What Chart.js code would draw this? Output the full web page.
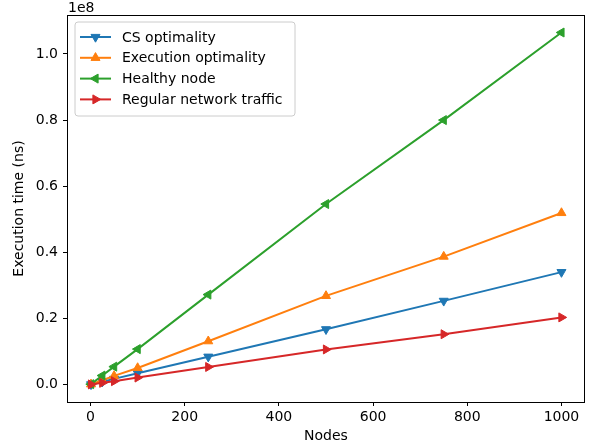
<!DOCTYPE html>
<html><head><meta charset="utf-8">
<script src="https://cdn.jsdelivr.net/npm/chart.js@4"></script>
<style>html,body{margin:0;padding:0;background:#fff}</style>
</head><body>
<canvas id="c" width="595" height="448"></canvas>
<script>
const nodes = [1, 25, 50, 100, 250, 500, 750, 1000];
const csOptimality = [0.0003e8, 0.0085e8, 0.017e8, 0.034e8, 0.084e8, 0.167e8, 0.253e8, 0.340e8];
const executionOptimality = [0.0005e8, 0.013e8, 0.026e8, 0.050e8, 0.131e8, 0.268e8, 0.387e8, 0.519e8];
const healthyNode = [0.001e8, 0.027e8, 0.054e8, 0.107e8, 0.272e8, 0.546e8, 0.800e8, 1.065e8];
const regularTraffic = [0.0002e8, 0.005e8, 0.010e8, 0.021e8, 0.053e8, 0.106e8, 0.152e8, 0.203e8];
const seriesNames = ['CS optimality', 'Execution optimality', 'Healthy node', 'Regular network traffic'];
const xTicks = [0, 200, 400, 600, 800, 1000];
const yTicks = [0, 0.2e8, 0.4e8, 0.6e8, 0.8e8, 1.0e8];
const yTickLabels = ['0.0', '0.2', '0.4', '0.6', '0.8', '1.0'];

const colors = ['#1f77b4', '#ff7f0e', '#2ca02c', '#d62728'];
const rotations = [180, 0, 270, 90];
const FONT = '"DejaVu Sans", sans-serif';
const FS = 14;

function ds(i, vals) {
  return {
    label: seriesNames[i],
    data: nodes.map((x, k) => ({x: x, y: vals[k]})),
    borderColor: colors[i],
    backgroundColor: colors[i],
    borderWidth: 2,
    pointStyle: 'triangle',
    pointRotation: rotations[i],
    pointRadius: 5.2,
    pointBorderWidth: 1,
    pointBackgroundColor: colors[i],
    pointBorderColor: colors[i],
    tension: 0,
    order: 3 - i
  };
}

const framePlugin = {
  id: 'frame',
  afterDraw(chart) {
    const c = chart.ctx, a = chart.chartArea;
    c.save();
    c.strokeStyle = '#000'; c.lineWidth = 1;
    c.strokeRect(Math.round(a.left) + 0.5, Math.round(a.top) + 0.5, Math.round(a.right - a.left) - 1, Math.round(a.bottom - a.top));
    c.fillStyle = '#000';
    c.font = FS + 'px ' + FONT;
    c.textAlign = 'left'; c.textBaseline = 'alphabetic';
    c.fillText('1e8', a.left + 1, a.top - 3);
    // legend
    const lx = 75, ly = 22, lw = 220, lh = 94, r = 3;
    c.globalAlpha = 0.8;
    c.fillStyle = '#fff';
    c.beginPath();
    c.moveTo(lx + r, ly); c.lineTo(lx + lw - r, ly); c.arcTo(lx + lw, ly, lx + lw, ly + r, r);
    c.lineTo(lx + lw, ly + lh - r); c.arcTo(lx + lw, ly + lh, lx + lw - r, ly + lh, r);
    c.lineTo(lx + r, ly + lh); c.arcTo(lx, ly + lh, lx, ly + lh - r, r);
    c.lineTo(lx, ly + r); c.arcTo(lx, ly, lx + r, ly, r);
    c.closePath();
    c.fill();
    c.globalAlpha = 1;
    c.strokeStyle = '#cccccc'; c.lineWidth = 1;
    c.stroke();
    chart.data.datasets.forEach((d, i) => {
      const y = 37 + i * 20.8;
      c.strokeStyle = colors[i]; c.lineWidth = 2;
      c.beginPath(); c.moveTo(80, y); c.lineTo(111, y); c.stroke();
      c.fillStyle = colors[i]; c.strokeStyle = colors[i]; c.lineWidth = 1;
      Chart.helpers.drawPoint(c, {pointStyle: 'triangle', rotation: rotations[i], radius: 5.2, borderWidth: 1}, 95.5, y);
      c.fillStyle = '#000';
      c.font = FS + 'px ' + FONT;
      c.textBaseline = 'middle';
      c.textAlign = 'left';
      c.fillText(d.label, 122, y + 1);
    });
    c.restore();
  }
};

Chart.defaults.font.family = FONT;
Chart.defaults.font.size = FS;
Chart.defaults.color = '#000';

new Chart(document.getElementById('c'), {
  type: 'line',
  data: {
    datasets: [ds(0, csOptimality), ds(1, executionOptimality), ds(2, healthyNode), ds(3, regularTraffic)]
  },
  options: {
    responsive: false,
    animation: false,
    layout: {padding: {top: 15, right: 10, left: 0, bottom: 0}},
    plugins: {legend: {display: false}, tooltip: {enabled: false}},
    scales: {
      x: {
        type: 'linear', min: -50, max: 1050,
        afterBuildTicks: s => { s.ticks = xTicks.map(v => ({value: v})); },
        afterFit: s => { s.height = 46; },
        ticks: {padding: 3, color: '#000', font: {size: FS, family: FONT}, callback: v => String(v), maxRotation: 0},
        grid: {display: true, drawOnChartArea: false, drawTicks: true, tickLength: 4, color: '#000', lineWidth: 1},
        border: {display: false},
        title: {display: true, text: 'Nodes', color: '#000', font: {size: FS, family: FONT}, padding: {top: 0, bottom: 3}}
      },
      y: {
        type: 'linear', min: -0.053e8, max: 1.118e8,
        afterBuildTicks: s => { s.ticks = yTicks.map(v => ({value: v})); },
        afterFit: s => { s.width = 67; },
        ticks: {padding: 5, color: '#000', font: {size: FS, family: FONT}, callback: v => { const i = yTicks.indexOf(v); return i >= 0 ? yTickLabels[i] : ''; }},
        grid: {display: true, drawOnChartArea: false, drawTicks: true, tickLength: 4, color: '#000', lineWidth: 1},
        border: {display: false},
        title: {display: true, text: 'Execution time (ns)', color: '#000', font: {size: FS, family: FONT}, padding: {top: 11, bottom: 0}}
      }
    }
  },
  plugins: [framePlugin]
});
</script>
</body></html>
